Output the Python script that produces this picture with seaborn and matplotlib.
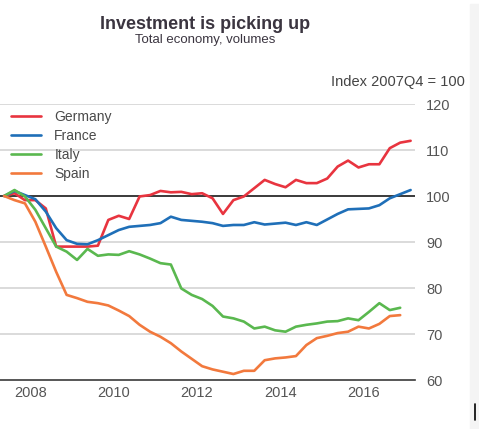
import pandas as pd
import seaborn as sns
import matplotlib.pyplot as plt
import numpy as np

# Quarterly index, 2007Q4 = 100
quarters = pd.period_range('2007Q4', '2017Q3', freq='Q')

germany = [100, 100.6, 99.1, 99.1, 97.3, 89, 89, 89, 89, 89.2,
           94.8, 95.7, 95, 99.9, 100.2, 101.1, 100.8, 100.9, 100.4, 100.6,
           99.5, 96.1, 99.1, 99.9, 101.7, 103.5, 102.6, 101.9, 103.5, 102.8,
           102.8, 103.8, 106.4, 107.7, 106.2, 106.9, 106.9, 110.4, 111.6, 112.0]
france = [100, 101.1, 100.2, 99.3, 96.6, 93, 90.4, 89.6, 89.5, 90.4,
          91.5, 92.6, 93.3, 93.5, 93.7, 94.1, 95.5, 94.8, 94.6, 94.4,
          94.1, 93.5, 93.7, 93.7, 94.3, 93.8, 94.0, 94.2, 93.7, 94.3,
          93.7, 94.9, 96.1, 97.1, 97.2, 97.3, 98.0, 99.5, 100.4, 101.3]
italy = [100, 101.3, 99.9, 97, 93, 89, 87.9, 86.1, 88.5, 87,
         87.3, 87.2, 88, 87.3, 86.4, 85.4, 85.1, 79.9, 78.5, 77.6,
         76.1, 73.8, 73.4, 72.7, 71.2, 71.6, 70.8, 70.5, 71.6, 72,
         72.3, 72.7, 72.8, 73.4, 73, 74.8, 76.7, 75.2, 75.7]
spain = [100, 99.1, 98.4, 94.4, 89, 83.5, 78.5, 77.8, 77, 76.7,
         76.2, 75.1, 73.9, 72, 70.5, 69.4, 68, 66.2, 64.6, 63,
         62.3, 61.8, 61.3, 62, 62, 64.3, 64.7, 64.9, 65.2, 67.6,
         69.1, 69.6, 70.2, 70.5, 71.6, 71.2, 72.2, 73.9, 74.1]

countries = ['Germany', 'France', 'Italy', 'Spain']
series = [germany, france, italy, spain]
colors = ['#e8343f', '#1f6fb8', '#5ab84f', '#f2793d']

year_ticks = list(range(2008, 2018))
year_labels = [2008, 2010, 2012, 2014, 2016]
y_ticks = [60, 70, 80, 90, 100, 110, 120]

# long-form frame, quarters placed at mid-quarter
frames = []
for name, vals in zip(countries, series):
    q = quarters[:len(vals)]
    t = q.year + (q.quarter - 1) / 4 + 0.125
    frames.append(pd.DataFrame({'t': t, 'value': vals, 'country': name}))
df = pd.concat(frames, ignore_index=True)

sns.set_style('white')
plt.rcParams['font.family'] = ['Liberation Sans', 'DejaVu Sans']

fig = plt.figure(figsize=(4.79, 4.29), dpi=100)
ax = fig.add_axes([0, 1 - 380 / 429, 415 / 479, (380 - 104) / 429])

for v in [70, 80, 90, 110, 120]:
    ax.axhline(v, color='#d4d4d4', lw=1.2, zorder=0)
ax.axhline(100, color='#3a3a3a', lw=1.4, zorder=1)

sns.lineplot(data=df, x='t', y='value', hue='country', hue_order=countries,
             palette=colors, linewidth=1.9, ax=ax, zorder=3)

ax.set_xlim(2007.777, 2017.73)
ax.set_ylim(60, 120)
ax.set_xlabel('')
ax.set_ylabel('')

for s in ['left', 'top', 'right']:
    ax.spines[s].set_visible(False)
ax.spines['bottom'].set_color('#3a3a3a')
ax.spines['bottom'].set_linewidth(1.2)

ax.yaxis.tick_right()
ax.set_yticks(y_ticks)
ax.tick_params(axis='y', length=0, pad=8, labelsize=10.5, labelcolor='#555555')

ax.set_xticks(year_ticks)
ax.set_xticklabels([])
ax.set_xticks([y + 0.5 for y in year_labels], minor=True)
ax.set_xticklabels([str(y) for y in year_labels], minor=True)
ax.tick_params(axis='x', which='major', direction='in', length=4, width=1, color='#3a3a3a')
ax.tick_params(axis='x', which='minor', length=0, pad=4, labelsize=10.5, labelcolor='#555555')

handles, labels = ax.get_legend_handles_labels()
ax.legend(handles, labels, loc='upper left', bbox_to_anchor=(0.012, 1.0), frameon=False,
          fontsize=10, labelcolor='#4a4a4a', handlelength=2.2, handletextpad=0.95,
          labelspacing=0.36, borderaxespad=0.0)

fig.text(0.428, 0.943, 'Investment is picking up', ha='center', va='center',
         fontsize=13, fontweight='bold', color='#3b3540')
fig.text(0.428, 0.906, 'Total economy, volumes', ha='center', va='center',
         fontsize=9.5, color='#3b3540')
fig.text(0.971, 0.809, 'Index 2007Q4 = 100', ha='right', va='center',
         fontsize=10.5, color='#444444')

# light strip and mark at the right edge of the screenshot
fig.patches.append(plt.Rectangle((470 / 479, 0), 9 / 479, 0.99, transform=fig.transFigure,
                                 color='#f4f4f4', zorder=-1))
fig.add_artist(plt.Line2D([475 / 479, 475 / 479], [1 - 420 / 429, 1 - 404 / 429],
                          color='black', lw=1.2))

fig.savefig('out.png', dpi=100)
